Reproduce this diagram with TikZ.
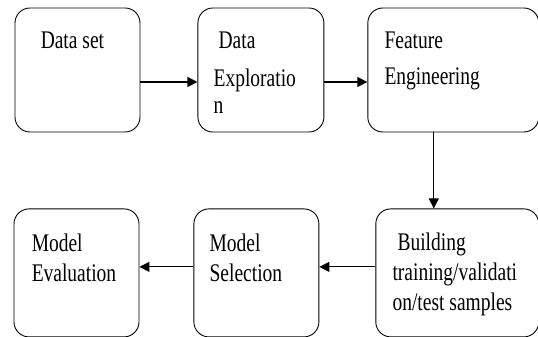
\documentclass[tikz,border=0pt]{standalone}
\usepackage{fontspec}
\setmainfont{Liberation Serif}
\usetikzlibrary{positioning, arrows.meta}

\tikzset{
  stage/.style = {draw, rounded corners=15pt, line width=0.9pt,
    minimum height=124pt, inner sep=0pt},
  stagetext/.style = {align=left, inner sep=0pt, anchor=north west,
    yscale=1.3, transform shape, font=\fontsize{19.5}{23}\selectfont},
  flow/.style = {-{Triangle[length=10pt,width=10pt]}, line width=1.2pt}
}

\begin{document}
\begin{tikzpicture}
\useasboundingbox (0,0) rectangle (538pt,337pt);
% top row
\node[stage, minimum width=125pt] (data) at (77.5pt,267pt) {};
\node[stage, minimum width=126pt] (explore) [right = 57pt of data] {};
\node[stage, minimum width=171pt] (feature) [right = 43pt of explore] {};
% bottom row, right to left
\node[stage, minimum width=163pt, minimum height=128pt] (build)
  [below = 76pt of feature.south east, anchor=north east] {};
\node[stage, minimum width=125pt, minimum height=128pt] (select) [left = 56pt of build] {};
\node[stage, minimum width=125pt, minimum height=128pt] (eval) [left = 54pt of select] {};

% texts sit in the upper left of each box
\node[stagetext] (datatxt) at ([xshift=26pt,yshift=-24pt]data.north west) {Data set};
\node[stagetext] (exploretxt) at ([xshift=16pt,yshift=-24pt]explore.north west)
  {\hspace{5pt}Data\\[6pt] Exploratio\\[-2pt] n};
\node[stagetext] (featuretxt) at ([xshift=17pt,yshift=-24pt]feature.north west)
  {Feature\\[4.5pt] Engineering};
\node[stagetext] (buildtxt) at ([xshift=17pt,yshift=-24pt]build.north west)
  {\hspace{5pt}Building\\ training/validati\\ on/test samples};
\node[stagetext] (selecttxt) at ([xshift=16pt,yshift=-25pt]select.north west)
  {Model\\ Selection};
\node[stagetext] (evaltxt) at ([xshift=18pt,yshift=-25pt]eval.north west)
  {Model\\ Evaluation};

% connectors
\draw[flow] ([yshift=-12pt]data.east) -- ([yshift=-12pt]explore.west);
\draw[flow] ([yshift=-12pt]explore.east) -- ([yshift=-12pt]feature.west);
\coordinate (drop) at ([xshift=-19.5pt]feature.south);
\draw[flow] (drop) -- (drop |- build.north);
\draw[flow] ([yshift=6pt]build.west) -- ([yshift=6pt]select.east);
\draw[flow] ([yshift=6pt]select.west) -- ([yshift=6pt]eval.east);
\end{tikzpicture}
\end{document}
